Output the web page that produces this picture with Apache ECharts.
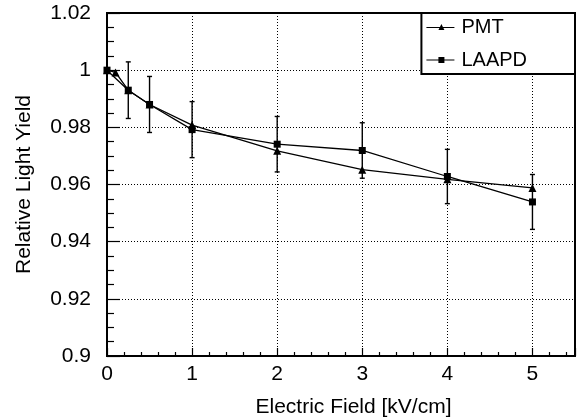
<!DOCTYPE html>
<html>
<head>
<meta charset="utf-8">
<script src="https://cdn.jsdelivr.net/npm/echarts@6/dist/echarts.min.js"></script>
<style>
  html, body { margin: 0; padding: 0; background: #fff; }
  #chart { width: 578px; height: 420px; }
</style>
</head>
<body>
<div id="chart"></div>
<script>
// Datos
const pmtField = [0, 0.1, 0.25, 0.5, 1, 2, 3, 4, 5];
const pmtYield = [1.0, 0.9992, 0.993, 0.988, 0.9808, 0.9718, 0.9652, 0.9618, 0.9588];

const laapdField = [0, 0.25, 0.5, 1, 2, 3, 4, 5];
const laapdYield = [1.0, 0.993, 0.988, 0.9792, 0.9741, 0.9719, 0.9628, 0.9539];
const laapdError = [0, 0.0099, 0.0098, 0.0098, 0.0097, 0.0097, 0.0095, 0.0096];

const xTicks = [0, 1, 2, 3, 4, 5];
const yTicks = [0.9, 0.92, 0.94, 0.96, 0.98, 1, 1.02];

const FONT = "'Liberation Sans', Arial, sans-serif";

// Iconos de leyenda: línea + marcador (28 x 6)
const iconTriangle = "path://M0,3 L28,3 L28,4 L0,4 Z M15,0 L18,6 L12,6 Z";
const iconSquare = "path://M0,2.5 L28,2.5 L28,3.5 L0,3.5 Z M12,0 L18,0 L18,6 L12,6 Z";

const chart = echarts.init(document.getElementById("chart"));

// Barras de error con caps
function renderErrorBar(params, api) {
  const x = api.value(0);
  const y = api.value(1);
  const e = api.value(2);
  if (!e) return null;
  const top = api.coord([x, y + e]);
  const bot = api.coord([x, y - e]);
  const cap = 2.5;
  const style = { stroke: "#000", lineWidth: 1.4 };
  return {
    type: "group",
    children: [
      { type: "line", shape: { x1: top[0], y1: top[1], x2: bot[0], y2: bot[1] }, style },
      { type: "line", shape: { x1: top[0] - cap, y1: top[1], x2: top[0] + cap, y2: top[1] }, style },
      { type: "line", shape: { x1: bot[0] - cap, y1: bot[1], x2: bot[0] + cap, y2: bot[1] }, style },
    ],
  };
}

const option = {
  animation: false,
  backgroundColor: "#fff",
  grid: {
    left: 107,
    right: 3,
    top: 13,
    bottom: 64,
    containLabel: false,
    outerBoundsMode: "none",
    show: true,
    borderColor: "#000",
    borderWidth: 2,
    backgroundColor: "transparent",
  },
  legend: {
    data: [
      { name: "PMT", icon: iconTriangle },
      { name: "LAAPD", icon: iconSquare },
    ],
    orient: "vertical",
    right: 3,
    top: 13,
    padding: [4, 48, 4, 5],
    itemGap: 13,
    itemWidth: 28,
    itemHeight: 6,
    backgroundColor: "#fff",
    borderColor: "#000",
    borderWidth: 2,
    borderRadius: 0,
    textStyle: { fontFamily: FONT, fontSize: 20, color: "#000", padding: [0, 0, 0, 2] },
  },
  xAxis: {
    type: "value",
    min: 0,
    max: 5.5,
    interval: 1,
    name: "Electric Field [kV/cm]",
    nameLocation: "middle",
    nameGap: 41,
    nameTextStyle: { fontFamily: FONT, fontSize: 21, color: "#000", padding: [0, 0, 0, 25] },
    axisLine: { show: true, onZero: false, lineStyle: { color: "#000", width: 2 } },
    axisTick: { show: true, inside: true, length: 8, lineStyle: { color: "#000", width: 1.2 } },
    minorTick: { show: true, splitNumber: 5, length: 4, lineStyle: { color: "#000", width: 1.2 } },
    splitLine: { show: true, lineStyle: { color: "#000", width: 1, type: [1, 2] } },
    axisLabel: {
      fontFamily: FONT,
      fontSize: 21,
      color: "#000",
      margin: 8,
      showMaxLabel: false,
      formatter: (v) => (xTicks.includes(v) ? String(v) : ""),
    },
  },
  yAxis: {
    type: "value",
    min: 0.9,
    max: 1.02,
    interval: 0.02,
    name: "Relative Light Yield",
    nameLocation: "middle",
    nameGap: 72,
    nameRotate: 90,
    nameTextStyle: { fontFamily: FONT, fontSize: 21, color: "#000" },
    axisLine: { show: true, onZero: false, lineStyle: { color: "#000", width: 2 } },
    axisTick: { show: true, inside: true, length: 13, lineStyle: { color: "#000", width: 1.2 } },
    minorTick: { show: true, splitNumber: 4, length: 7, lineStyle: { color: "#000", width: 1.2 } },
    splitLine: { show: true, lineStyle: { color: "#000", width: 1, type: [1, 2] } },
    axisLabel: {
      fontFamily: FONT,
      fontSize: 21,
      color: "#000",
      margin: 16,
      formatter: (v) => {
        const t = yTicks.find((k) => Math.abs(k - v) < 1e-6);
        return t === undefined ? "" : String(t);
      },
    },
  },
  series: [
    {
      name: "PMT",
      type: "line",
      data: pmtField.map((x, i) => [x, pmtYield[i]]),
      symbol: "triangle",
      symbolSize: 8,
      itemStyle: { color: "#000" },
      lineStyle: { color: "#000", width: 1.3 },
      z: 3,
    },
    {
      name: "LAAPD",
      type: "line",
      data: laapdField.map((x, i) => [x, laapdYield[i]]),
      symbol: "rect",
      symbolSize: 7,
      itemStyle: { color: "#000" },
      lineStyle: { color: "#000", width: 1.3 },
      z: 3,
    },
    {
      name: "LAAPD error",
      type: "custom",
      renderItem: renderErrorBar,
      data: laapdField.map((x, i) => [x, laapdYield[i], laapdError[i]]),
      encode: { x: 0, y: 1 },
      z: 2,
    },
  ],
};

chart.setOption(option);
</script>
</body>
</html>
